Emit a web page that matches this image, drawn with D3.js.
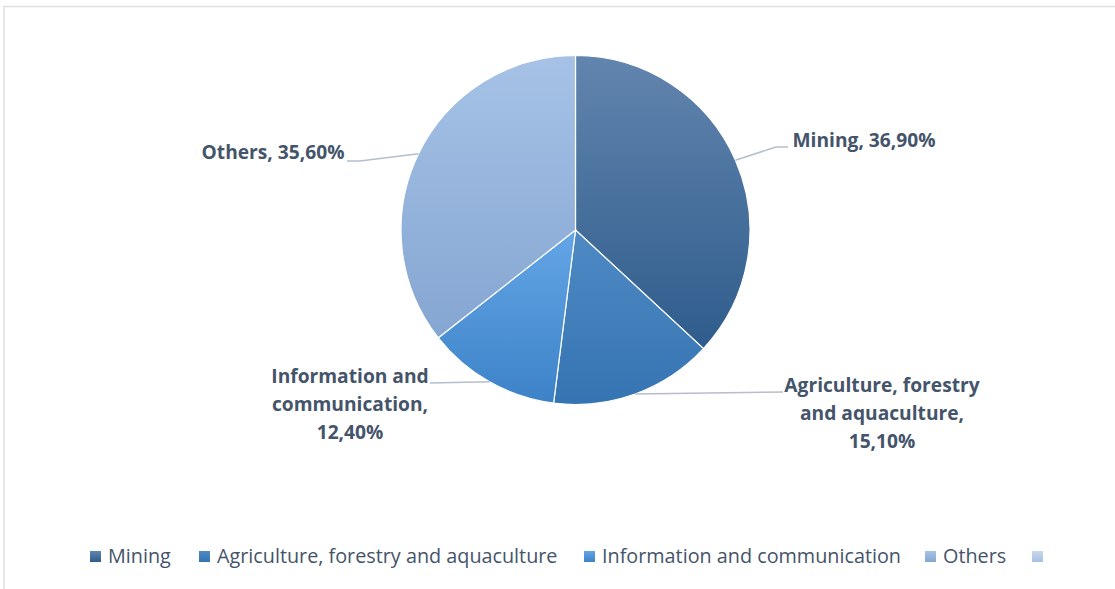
<!DOCTYPE html>
<html>
<head>
<meta charset="utf-8">
<script src="https://cdn.jsdelivr.net/npm/d3@7"></script>
<style>
  body { margin: 0; background: #fff; }
  svg { display: block; font-family: "Open Sans", Lato, sans-serif; }
</style>
</head>
<body>
<svg width="1115" height="589"></svg>
<script>
const categories = ['Mining', 'Agriculture, forestry and aquaculture', 'Information and communication', 'Others']
const values = [36.9, 15.1, 12.4, 35.6]
const labelLines = [
  ['Mining, 36,90%'],
  ['Agriculture, forestry', 'and aquaculture,', '15,10%'],
  ['Information and', 'communication,', '12,40%'],
  ['Others, 35,60%'],
]
// legend has a 5th empty entry in the original
const legendNames = [...categories, '']

// gradient stops, top -> bottom
const colors = [
  ['#6285ae', '#2f5c8c'],
  ['#4f8ac4', '#3574b2'],
  ['#64a6e6', '#3d82c8'],
  ['#a6c2e6', '#85a6d2'],
  ['#c8d8ee', '#a9bfe0'],
]

const svg = d3.select('svg')
const cx = 575.5, cy = 230, r = 174.5

// frame
svg.append('path')
  .attr('d', 'M4,589 V6.5 H1115')
  .attr('fill', 'none')
  .attr('stroke', '#dbe0e6')
  .attr('stroke-width', 1.5)

const defs = svg.append('defs')
colors.forEach((c, i) => {
  const g = defs.append('linearGradient')
    .attr('id', 'g' + i)
    .attr('x1', 0).attr('y1', 0).attr('x2', 0).attr('y2', 1)
  g.append('stop').attr('offset', '0%').attr('stop-color', c[0])
  g.append('stop').attr('offset', '100%').attr('stop-color', c[1])
})

const pie = d3.pie().sort(null).value((d) => d)
const arcs = pie(values)
const arc = d3.arc().innerRadius(0).outerRadius(r)

const g = svg.append('g').attr('transform', `translate(${cx},${cy})`)
g.selectAll('path.slice')
  .data(arcs)
  .join('path')
  .attr('class', 'slice')
  .attr('d', arc)
  .attr('fill', (d, i) => `url(#g${i})`)
  .attr('stroke', '#fff')
  .attr('stroke-width', 1.2)

// label placement (layout only): centre x, first baseline, leader bend + end
const labelPos = [
  { x: 864, y: 147, elbow: [776, 147], end: [788, 147] },
  { x: 882, y: 392, elbow: [783, 392], end: [783, 392] },
  { x: 350, y: 383, elbow: [430, 383], end: [430, 383] },
  { x: 273, y: 159, elbow: [360, 161], end: [347, 161] },
]

const edge = (d) => {
  const a = (d.startAngle + d.endAngle) / 2
  return [cx + r * Math.sin(a), cy - r * Math.cos(a)]
}

svg.append('g').selectAll('path')
  .data(arcs)
  .join('path')
  .attr('d', (d, i) => {
    const p = edge(d)
    const l = labelPos[i]
    return `M${p[0]},${p[1]}L${l.elbow[0]},${l.elbow[1]}L${l.end[0]},${l.end[1]}`
  })
  .attr('fill', 'none')
  .attr('stroke', '#b3bfcf')
  .attr('stroke-width', 1.5)

const lineH = 27.8
svg.append('g').selectAll('text')
  .data(labelLines)
  .join('text')
  .attr('text-anchor', 'middle')
  .attr('font-weight', 'bold')
  .attr('font-size', 19.2)
  .attr('fill', '#44546a')
  .each(function (lines, i) {
    const l = labelPos[i]
    const t = d3.select(this)
    lines.forEach((s, k) => {
      t.append('tspan')
        .attr('x', l.x)
        .attr('y', l.y + k * lineH)
        .text(s)
    })
  })

// legend
const legendX = [90, 199, 584, 925, 1032]
const leg = svg.append('g').selectAll('g')
  .data(legendNames)
  .join('g')
  .attr('transform', (d, i) => `translate(${legendX[i]},551)`)
leg.append('rect')
  .attr('width', 11).attr('height', 11)
  .attr('fill', (d, i) => `url(#g${i})`)
leg.append('text')
  .attr('x', 18).attr('y', 12)
  .attr('font-size', 19.8)
  .attr('fill', '#44546a')
  .text((d) => d)
</script>
</body>
</html>
